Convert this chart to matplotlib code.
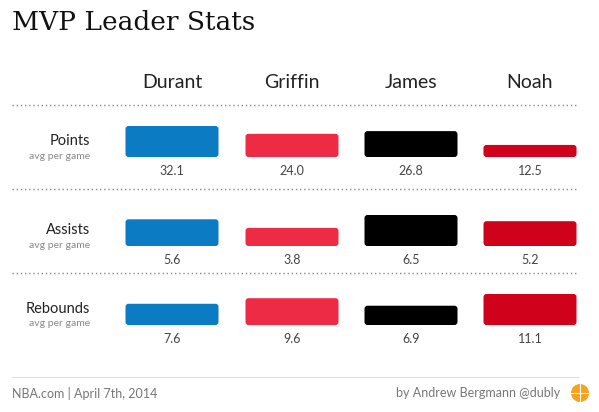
import matplotlib
matplotlib.use("Agg")
import matplotlib.pyplot as plt
from matplotlib.patches import FancyBboxPatch, Circle, Arc

players = ["Durant", "Griffin", "James", "Noah"]
colors = ["#0b7bc4", "#ee2b45", "#000000", "#d0021b"]
stats = ["Points", "Assists", "Rebounds"]
points = [32.1, 24.0, 26.8, 12.5]
assists = [5.6, 3.8, 6.5, 5.2]
rebounds = [7.6, 9.6, 6.9, 11.1]
rows = [points, assists, rebounds]

fig = plt.figure(figsize=(5.99, 4.12), dpi=100)
ax = fig.add_axes([0, 0, 1, 1])
ax.set_xlim(0, 599); ax.set_ylim(412, 0); ax.axis("off")

fam = ["Lato", "DejaVu Sans"]
ax.text(12, 22, "MVP Leader Stats", fontsize=19, family=["DejaVu Serif"], va="center", color="#111")
xc = [172, 292, 411, 530]
for x, p in zip(xc, players):
    ax.text(x, 82, p, fontsize=14, family=fam, ha="center", va="center", color="#222")
for y in [105, 189, 273]:
    ax.plot([12, 578], [y, y], ls=(0, (1, 2)), color="#888", lw=1)
ax.plot([12, 578], [377, 377], color="#ddd", lw=0.8)

bases = [157, 246, 325]
maxh = 31
bw = 93
for base, stat, vals in zip(bases, stats, rows):
    m = max(vals)
    ax.text(90, base - 16, stat, fontsize=10.5, family=fam, ha="right", va="center", color="#222")
    ax.text(90, base - 1, "avg per game", fontsize=7.5, family=fam, ha="right", va="center", color="#888")
    for x, v, c in zip(xc, vals, colors):
        h = v / m * maxh
        ax.add_patch(FancyBboxPatch((x - bw / 2, base - h), bw, h,
                                    boxstyle="round,pad=0,rounding_size=3", fc=c, ec="none"))
        ax.text(x, base + 14, f"{v:.1f}", fontsize=9, family=fam, ha="center", va="center", color="#444")

ax.text(12, 393, "NBA.com | April 7th, 2014", fontsize=9, family=fam, va="center", color="#777")
ax.text(560, 393, "by Andrew Bergmann @dubly", fontsize=9, family=fam, va="center", ha="right", color="#777")
ax.add_patch(Circle((580, 393), 9, fc="#f7a21b", ec="none"))
ax.plot([571, 589], [393, 393], color="white", lw=0.8)
ax.plot([580, 580], [384, 402], color="white", lw=0.8)
fig.savefig("out.png", dpi=100)
